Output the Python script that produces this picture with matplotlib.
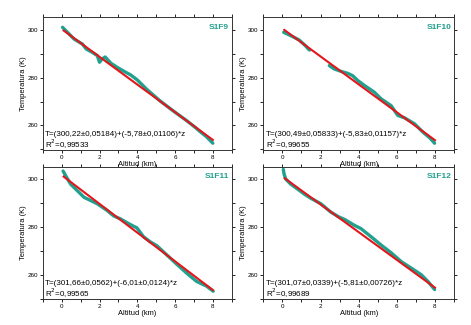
import matplotlib.pyplot as plt
from matplotlib.ticker import MultipleLocator

plt.rcParams['font.family'] = ['Liberation Sans', 'DejaVu Sans']

# sonde profiles: altitude (km) and temperature (K)
z_s1f9 = [0.04, 0.39, 0.65, 1.09, 1.3, 1.6, 1.88, 2.0, 2.14, 2.3, 2.6, 2.95, 3.3, 3.65,
          4.0, 4.5, 5.2, 5.9, 6.6, 7.1, 7.3, 7.65, 8.0]
t_s1f9 = [301.0, 298.2, 296.1, 294.0, 291.9, 290.6, 289.2, 286.4, 287.8, 288.6, 286.0,
          284.2, 282.6, 281.1, 279.0, 275.1, 270.3, 266.1, 262.1, 259.0, 257.6, 255.4, 252.6]

z_s1f10 = [0.07, 0.44, 0.88, 1.21, 1.35, 1.43, None, 2.46, 2.72, 3.07, 3.42, 3.68, 3.95,
           4.3, 4.82, 5.18, 5.7, 6.05, 6.4, 6.93, 7.37, 7.72, 7.98]
t_s1f10 = [298.9, 297.5, 295.7, 293.3, 292.0, 291.5, None, 285.0, 283.6, 282.6, 281.8,
           280.8, 278.8, 276.7, 273.9, 271.1, 268.3, 264.2, 263.2, 260.7, 257.2, 254.9, 252.6]

z_s1f11 = [0.07, 0.21, 0.47, 0.82, 1.18, 1.44, 1.88, 2.4, 2.75, 3.1, 3.54, 3.8, 3.98,
           4.33, 4.68, 5.04, 5.56, 6.09, 6.61, 7.14, 7.67, 8.02]
t_s1f11 = [303.4, 301.4, 297.9, 295.2, 292.4, 291.4, 289.7, 286.9, 284.6, 283.4, 281.4,
           280.3, 279.6, 275.9, 273.8, 272.1, 268.3, 264.4, 260.7, 257.2, 255.2, 253.1]

z_s1f12 = [0.05, 0.09, 0.18, 0.44, 0.79, 1.14, 1.49, 2.02, 2.54, 2.98, 3.25, 3.77, 4.12,
           4.65, 5.18, 5.7, 6.23, 6.75, 7.28, 7.63, 7.98]
t_s1f12 = [304.1, 302.1, 300.0, 297.9, 295.9, 293.8, 292.0, 289.7, 286.2, 284.1, 283.2,
           280.7, 279.3, 275.9, 272.4, 269.2, 265.5, 262.8, 260.0, 257.2, 253.8]

names = ['S1F9', 'S1F10', 'S1F11', 'S1F12']
intercepts = [300.22, 300.49, 301.66, 301.07]
intercept_err = ['0,05184', '0,05833', '0,0562', '0,0339']
slopes = [-5.78, -5.83, -6.01, -5.81]
slope_err = ['0,01106', '0,01157', '0,0124', '0,00726']
r2 = ['0,99533', '0,99655', '0,99565', '0,99689']

profiles = [(z_s1f9, t_s1f9), (z_s1f10, t_s1f10), (z_s1f11, t_s1f11), (z_s1f12, t_s1f12)]
fit_range = [(0.1, 8.0), (0.1, 8.0), (0.1, 8.0), (0.12, 8.0)]

teal = '#22a08e'
red = '#e3161b'

fig = plt.figure(figsize=(4.71, 3.25), dpi=100)
boxes = [[0.091, 0.538, 0.401, 0.409], [0.559, 0.538, 0.405, 0.409],
         [0.091, 0.079, 0.401, 0.408], [0.559, 0.079, 0.405, 0.408]]

for i in range(4):
    ax = fig.add_axes(boxes[i])
    zz, tt = profiles[i]
    ax.plot([float('nan') if v is None else v for v in zz],
            [float('nan') if v is None else v for v in tt],
            color=teal, lw=2.4, solid_capstyle='round')
    z0, z1 = fit_range[i]
    ax.plot([z0, z1], [intercepts[i] + slopes[i] * z0, intercepts[i] + slopes[i] * z1],
            color=red, lw=1.5)
    ax.set_xlim(-1, 9)
    ax.set_ylim(249.7, 305.2)
    ax.xaxis.set_major_locator(MultipleLocator(2))
    ax.xaxis.set_minor_locator(MultipleLocator(1))
    ax.yaxis.set_major_locator(MultipleLocator(20))
    ax.yaxis.set_minor_locator(MultipleLocator(10))
    ax.tick_params(which='both', labelsize=4.5, length=2, width=0.6, pad=1.5,
                   top=True, right=True)
    for s in ax.spines.values():
        s.set_linewidth(0.7)
        s.set_color('#333333')
    ax.set_xlabel('Altitud (km)', fontsize=5.4)
    ax.set_ylabel('Temperatura (K)', fontsize=5.4)
    ax.xaxis.set_label_coords(0.5, -0.078)
    ax.yaxis.set_label_coords(-0.085, 0.5)
    ax.text(0.985, 0.925, names[i], transform=ax.transAxes, ha='right', va='center',
            color=teal, fontsize=6, fontweight='bold')
    eq = 'T=(%s±%s)+(%s±%s)*z' % (('%.2f' % intercepts[i]).replace('.', ','), intercept_err[i],
                                 ('%.2f' % slopes[i]).replace('.', ','), slope_err[i])
    ax.text(0.012, 0.12, eq, transform=ax.transAxes, ha='left', va='center', fontsize=5.8)
    ax.text(0.012, 0.045, 'R$^2$=' + r2[i], transform=ax.transAxes, ha='left', va='center',
            fontsize=5.8)

fig.savefig('out.png', dpi=100)
